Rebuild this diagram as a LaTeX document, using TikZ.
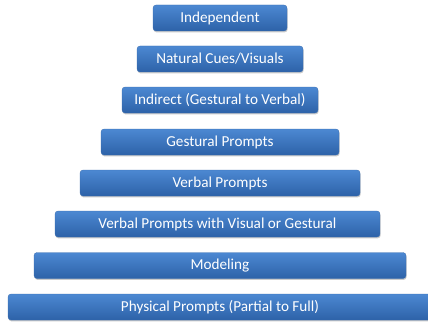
\documentclass[tikz,border=0pt]{standalone}
\usepackage{fontspec}
\setmainfont{Carlito}
\usetikzlibrary{shadows}
\definecolor{boxtop}{RGB}{76,136,210}
\definecolor{boxbot}{RGB}{45,98,168}
\definecolor{boxedge}{RGB}{60,110,175}
\tikzset{
  tier/.style={rectangle, rounded corners=3pt, minimum height=26pt, inner sep=0pt,
    top color=boxtop, bottom color=boxbot, draw=boxedge, line width=0.3pt,
    text=white, font=\fontsize{15.2}{17}\selectfont,
    drop shadow={shadow xshift=0.6pt, shadow yshift=-1.4pt, opacity=0.35, fill=black!60}}
}
\begin{document}
\begin{tikzpicture}[x=1pt,y=1pt]
\useasboundingbox (0,0) rectangle (428,322);
\node[tier, minimum width=134pt] (n1) at (220,{322-18}) {Independent};
\node[tier, minimum width=166pt] (n2) at (220,{322-59}) {Natural Cues/Visuals};
\node[tier, minimum width=196pt] (n3) at (220,{322-100}) {Indirect (Gestural to Verbal)};
\node[tier, minimum width=238pt] (n4) at (220,{322-142}) {Gestural Prompts};
\node[tier, minimum width=280pt] (n5) at (220,{322-183}) {Verbal Prompts};
\node[tier, minimum width=325pt] (n6) at (217.5,{322-224}) {Verbal Prompts with Visual or Gestural};
\node[tier, minimum width=372pt] (n7) at (220,{322-265.5}) {Modeling};
\node[tier, minimum width=424pt] (n8) at (220,{322-307}) {Physical Prompts (Partial to Full)};
\end{tikzpicture}
\end{document}
